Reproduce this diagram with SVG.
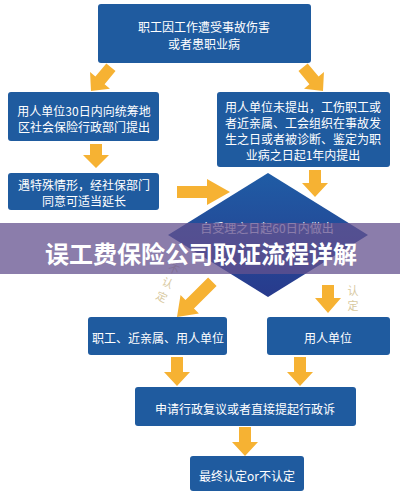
<svg xmlns="http://www.w3.org/2000/svg" width="400" height="499" viewBox="0 0 400 499">
<defs>
<style>
.box{fill:#1f5b9f;}
.t{font-family:"Noto Sans CJK SC","Noto Sans",sans-serif;font-size:12px;fill:#ffffff;text-anchor:middle;dominant-baseline:central;}
.arr{fill:#f6b233;}
.lbl{font-family:"Noto Sans CJK SC","Noto Sans",sans-serif;font-size:11px;fill:#d8c9a0;text-anchor:middle;dominant-baseline:central;}
.title{font-family:"Noto Sans CJK SC","Noto Sans",sans-serif;font-size:24px;font-weight:bold;fill:#ffffff;text-anchor:middle;dominant-baseline:central;}
</style>
<linearGradient id="dg" x1="0" y1="0" x2="0" y2="1">
<stop offset="0" stop-color="#1f5ca5"/>
<stop offset="1" stop-color="#283a8c"/>
</linearGradient>
</defs>
<rect width="400" height="499" fill="#ffffff"/>

<g id="connectors">
<g class="arr" transform="translate(91,91) rotate(40)"><path d="M-6,-31 h12 v17 h7 L0,0 L-13,-14 h7 z"/></g>
<g class="arr" transform="translate(323,91) rotate(-40)"><path d="M-6,-31 h12 v17 h7 L0,0 L-13,-14 h7 z"/></g>
<g class="arr" transform="translate(96,168)"><path d="M-6,-24 h12 v11 h7 L0,0 L-13,-13 h7 z"/></g>
<g class="arr" transform="translate(230,192) rotate(-90)"><path d="M-6,-53 h12 v30 h7 L0,0 L-13,-23 h7 z"/></g>
<g class="arr" transform="translate(315,197)"><path d="M-6,-27 h12 v13 h7 L0,0 L-13,-14 h7 z"/></g>
<g class="arr" transform="translate(177,317) rotate(45)"><path d="M-6,-50 h12 v32 h7 L0,0 L-13,-18 h7 z"/></g>
<g class="arr" transform="translate(328,313)"><path d="M-6,-28 h12 v13 h7 L0,0 L-13,-15 h7 z"/></g>
<g class="arr" transform="translate(177,386)"><path d="M-6,-29 h12 v15 h7 L0,0 L-13,-14 h7 z"/></g>
<g class="arr" transform="translate(300,386)"><path d="M-6,-29 h12 v15 h7 L0,0 L-13,-14 h7 z"/></g>
<g class="arr" transform="translate(245,456)"><path d="M-6,-29 h12 v15 h7 L0,0 L-13,-14 h7 z"/></g>
<text class="lbl" transform="translate(174,268) rotate(25)">不</text>
<text class="lbl" transform="translate(168,282) rotate(25)">认</text>
<text class="lbl" transform="translate(162,296) rotate(25)">定</text>
<text class="lbl" x="353" y="290">认</text>
<text class="lbl" x="353" y="305">定</text>
</g>

<g id="n1">
<rect class="box" x="98" y="4" width="213" height="59" rx="3"/>
<text class="t" x="204" y="26">职工因工作遭受事故伤害</text>
<text class="t" x="204" y="43">或者患职业病</text>
</g>

<g id="n2">
<rect class="box" x="8" y="92" width="151" height="49" rx="3"/>
<text class="t" x="84" y="110">用人单位30日内向统筹地</text>
<text class="t" x="84" y="126">区社会保险行政部门提出</text>
</g>

<g id="n3">
<rect class="box" x="217" y="92" width="173" height="75" rx="3"/>
<text class="t" x="303" y="106">用人单位未提出，工伤职工或</text>
<text class="t" x="303" y="122">者近亲属、工会组织在事故发</text>
<text class="t" x="303" y="138">生之日或者被诊断、鉴定为职</text>
<text class="t" x="303" y="154">业病之日起1年内提出</text>
</g>

<g id="n4">
<rect class="box" x="8" y="173" width="151" height="37" rx="3"/>
<text class="t" x="84" y="184">遇特殊情形，经社保部门</text>
<text class="t" x="84" y="200">同意可适当延长</text>
</g>

<g id="n5">
<polygon points="268,173 368,235 268,297 168,235" fill="url(#dg)"/>
<text class="t" x="267" y="227">自受理之日起60日内做出</text>
</g>

<g id="n6">
<rect class="box" x="88" y="317" width="139" height="38" rx="3"/>
<text class="t" x="158" y="337">职工、近亲属、用人单位</text>
</g>

<g id="n7">
<rect class="box" x="267" y="317" width="123" height="38" rx="3"/>
<text class="t" x="328" y="337">用人单位</text>
</g>

<g id="n8">
<rect class="box" x="135" y="387" width="221" height="39" rx="3"/>
<text class="t" x="245" y="408">申请行政复议或者直接提起行政诉</text>
</g>

<g id="n9">
<rect class="box" x="190" y="456" width="114" height="35" rx="3"/>
<text class="t" x="247" y="475">最终认定or不认定</text>
</g>

<g id="banner">
<rect x="0" y="223" width="400" height="51" fill="#64528f" fill-opacity="0.75"/>
<text class="title" x="201" y="252">误工费保险公司取证流程详解</text>
</g>
</svg>
